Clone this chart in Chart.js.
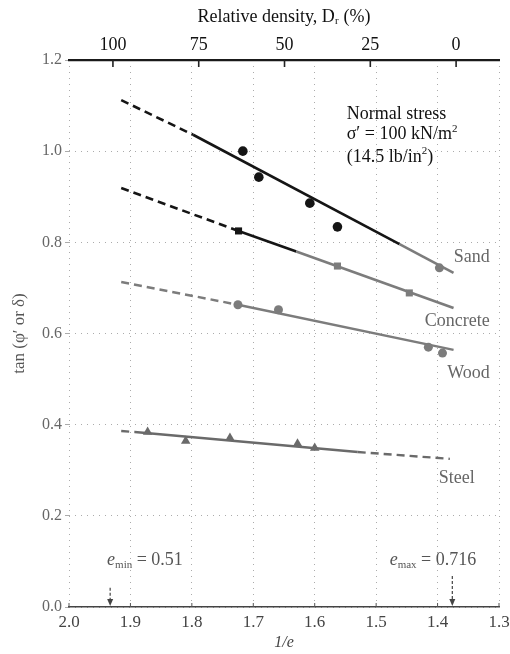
<!DOCTYPE html>
<html><head><meta charset="utf-8">
<script src="https://cdn.jsdelivr.net/npm/chart.js@4/dist/chart.umd.min.js"></script>
<style>html,body{margin:0;padding:0;background:#fff}</style>
</head><body>
<canvas id="c" width="510" height="654"></canvas>
<script>
// ---------- data ----------
const xTickValues = [2.0, 1.9, 1.8, 1.7, 1.6, 1.5, 1.4, 1.3];
const drTickValues = [100, 75, 50, 25, 0];
const yTickValues = [0.0, 0.2, 0.4, 0.6, 0.8, 1.0, 1.2];

const sandPtsX = [1.717, 1.691, 1.608, 1.563];
const sandPtsY = [1.000, 0.943, 0.886, 0.834];
const sandEndPtX = [1.397];
const sandEndPtY = [0.744];
const sandLineX = [1.915, 1.798, 1.462, 1.374];
const sandLineY = [1.112, 1.036, 0.796, 0.733];

const concretePtsX = [1.724, 1.563, 1.446];
const concretePtsY = [0.825, 0.748, 0.689];
const concreteLineX = [1.915, 1.724, 1.630, 1.374];
const concreteLineY = [0.919, 0.825, 0.780, 0.656];

const woodPtsX = [1.725, 1.659, 1.415, 1.392];
const woodPtsY = [0.663, 0.652, 0.570, 0.557];
const woodLineX = [1.915, 1.725, 1.374];
const woodLineY = [0.713, 0.663, 0.564];

const steelPtsX = [1.872, 1.810, 1.738, 1.628, 1.600];
const steelPtsY = [0.384, 0.364, 0.371, 0.358, 0.349];
const steelLineX = [1.915, 1.893, 1.530, 1.380];
const steelLineY = [0.386, 0.384, 0.340, 0.325];

const eMinOneOverE = 1.933;
const eMaxOneOverE = 1.376;

// ---------- helpers ----------
const SERIF = "'Liberation Serif','DejaVu Serif',serif";
const BLACK = '#151515';
const GRAY = '#7c7c7c';
const pts = (xs, ys) => xs.map((x, i) => ({x: x, y: ys[i]}));
const DASH = [8, 5];

const datasets = [
  {type:'line', data: pts(sandLineX, sandLineY), order: 2, borderWidth: 2.6, pointRadius: 0,
   borderColor: BLACK,
   segment: {borderDash: c => c.p0DataIndex === 0 ? DASH : undefined,
             borderColor: c => c.p0DataIndex === 2 ? GRAY : BLACK}},
  {type:'line', data: pts(concreteLineX, concreteLineY), order: 2, borderWidth: 2.6, pointRadius: 0,
   borderColor: BLACK,
   segment: {borderDash: c => c.p0DataIndex === 0 ? DASH : undefined,
             borderColor: c => c.p0DataIndex === 2 ? GRAY : BLACK}},
  {type:'line', data: pts(woodLineX, woodLineY), order: 2, borderWidth: 2.4, pointRadius: 0,
   borderColor: GRAY,
   segment: {borderDash: c => c.p0DataIndex === 0 ? DASH : undefined}},
  {type:'line', data: pts(steelLineX, steelLineY), order: 2, borderWidth: 2.4, pointRadius: 0,
   borderColor: '#6a6a6a',
   segment: {borderDash: c => (c.p0DataIndex === 0 || c.p0DataIndex === 2) ? DASH : undefined}},
  {type:'scatter', data: pts(sandPtsX, sandPtsY), order: 1, pointStyle:'circle', pointRadius: 4.8,
   backgroundColor: BLACK, borderColor: BLACK, borderWidth: 0},
  {type:'scatter', data: pts(sandEndPtX, sandEndPtY), order: 1, pointStyle:'circle', pointRadius: 4.5,
   backgroundColor: GRAY, borderColor: GRAY, borderWidth: 0},
  {type:'scatter', data: pts(concretePtsX, concretePtsY), order: 1, pointStyle:'rect', pointRadius: 5,
   backgroundColor: c => c.dataIndex === 0 ? BLACK : GRAY, borderWidth: 0},
  {type:'scatter', data: pts(woodPtsX, woodPtsY), order: 1, pointStyle:'circle', pointRadius: 4.5,
   backgroundColor: GRAY, borderColor: GRAY, borderWidth: 0},
  {type:'scatter', data: pts(steelPtsX, steelPtsY), order: 1, pointStyle:'triangle', pointRadius: 5.5,
   backgroundColor: '#6a6a6a', borderColor: '#6a6a6a', borderWidth: 0}
];

function drawRuns(ctx, x, y, parts, align) {
  let w = 0;
  parts.forEach(p => { ctx.font = p.f; w += ctx.measureText(p.t).width; });
  let cx = align === 'right' ? x - w : x;
  parts.forEach(p => {
    ctx.font = p.f;
    ctx.fillText(p.t, cx, y + (p.dy || 0));
    cx += ctx.measureText(p.t).width;
  });
}

const annotPlugin = {
  id: 'annot',
  afterDatasetsDraw(chart) {
    const {ctx, chartArea} = chart;
    const xs = chart.scales.x, ys = chart.scales.y, x2 = chart.scales.x2;
    const X = v => xs.getPixelForValue(v), Y = v => ys.getPixelForValue(v);
    ctx.save();
    // inner ticks on top axis
    ctx.strokeStyle = '#222'; ctx.lineWidth = 1.6;
    drTickValues.forEach(v => {
      const px = x2.getPixelForValue(v);
      ctx.beginPath(); ctx.moveTo(px, chartArea.top); ctx.lineTo(px, chartArea.top + 7); ctx.stroke();
    });
    // small inner ticks on bottom axis
    ctx.strokeStyle = '#555'; ctx.lineWidth = 1;
    xTickValues.forEach(v => {
      const px = X(v);
      ctx.beginPath(); ctx.moveTo(px, chartArea.bottom); ctx.lineTo(px, chartArea.bottom - 4); ctx.stroke();
    });

    ctx.textBaseline = 'middle';
    const f = s => s + 'px ' + SERIF;
    const fi = s => 'italic ' + s + 'px ' + SERIF;
    // Normal stress block
    ctx.fillStyle = '#111';
    const nx = X(1.548);
    drawRuns(ctx, nx, Y(1.082), [{t:'Normal stress', f:f(18)}]);
    drawRuns(ctx, nx, Y(1.036), [{t:'σ′ = 100 kN/m', f:f(18)}, {t:'2', f:f(11), dy:-6}]);
    drawRuns(ctx, nx, Y(0.987), [{t:'(14.5 lb/in', f:f(18)}, {t:'2', f:f(11), dy:-6}, {t:')', f:f(18)}]);
    // material labels
    ctx.fillStyle = '#666';
    const rx = X(1.315);
    drawRuns(ctx, rx, Y(0.768), [{t:'Sand', f:f(18)}], 'right');
    drawRuns(ctx, rx, Y(0.627), [{t:'Concrete', f:f(18)}], 'right');
    drawRuns(ctx, rx, Y(0.513), [{t:'Wood', f:f(18)}], 'right');
    drawRuns(ctx, X(1.398), Y(0.283), [{t:'Steel', f:f(18)}]);
    // e_min / e_max
    ctx.fillStyle = '#555';
    drawRuns(ctx, X(1.938), Y(0.103), [{t:'e', f:fi(18)}, {t:'min', f:f(11), dy:5}, {t:' = 0.51', f:f(18)}]);
    drawRuns(ctx, X(1.478), Y(0.103), [{t:'e', f:fi(18)}, {t:'max', f:f(11), dy:5}, {t:' = 0.716', f:f(18)}]);
    // arrows
    ctx.strokeStyle = '#444'; ctx.fillStyle = '#444'; ctx.lineWidth = 1.2;
    [[eMinOneOverE, 0.042], [eMaxOneOverE, 0.068]].forEach(([xv, yt]) => {
      const px = X(xv), top = Y(yt), bot = Y(0) - 1;
      ctx.setLineDash([3, 2]);
      ctx.beginPath(); ctx.moveTo(px, top); ctx.lineTo(px, bot - 6); ctx.stroke();
      ctx.setLineDash([]);
      ctx.beginPath(); ctx.moveTo(px - 3, bot - 7); ctx.lineTo(px + 3, bot - 7); ctx.lineTo(px, bot); ctx.closePath(); ctx.fill();
    });
    ctx.restore();
  }
};

new Chart(document.getElementById('c'), {
  data: {datasets},
  plugins: [annotPlugin],
  options: {
    responsive: false, animation: false, devicePixelRatio: 1,
    layout: {padding: {left: 0, right: 11, top: 0, bottom: 0}},
    plugins: {legend: {display: false}, tooltip: {enabled: false}},
    scales: {
      x: {
        type: 'linear', position: 'bottom', reverse: true, min: 1.3, max: 2.0,
        afterBuildTicks: s => { s.ticks = xTickValues.map(v => ({value: v})); },
        afterFit: s => { s.height = 47; s.paddingLeft = 0; s.paddingRight = 0; },
        ticks: {color: '#444', font: {family: SERIF, size: 17}, padding: 5, maxRotation: 0,
                callback: v => Number(v).toFixed(1)},
        grid: {color: 'rgba(0,0,0,0.33)', lineWidth: 1, drawTicks: false},
        border: {display: true, color: '#444', width: 1.6, dash: [1, 5]},
        title: {display: true, text: '1/e', color: '#444',
                font: {family: SERIF, size: 16, style: 'italic'}, padding: {top: 0, bottom: 2}}
      },
      x2: {
        type: 'linear', position: 'top', reverse: true, min: -12.5, max: 112.8,
        afterBuildTicks: s => { s.ticks = drTickValues.map(v => ({value: v})); },
        afterFit: s => { s.height = 60; s.paddingLeft = 0; s.paddingRight = 0; },
        ticks: {color: '#111', font: {family: SERIF, size: 18}, padding: 4, maxRotation: 0},
        grid: {drawOnChartArea: false, drawTicks: false},
        border: {display: true, color: '#1a1a1a', width: 2.2},
        title: {display: true, text: 'Relative density, Dᵣ (%)', color: '#111',
                font: {family: SERIF, size: 18}, padding: {top: 6, bottom: 0}}
      },
      y: {
        type: 'linear', position: 'left', min: 0, max: 1.2,
        afterBuildTicks: s => { s.ticks = yTickValues.map(v => ({value: v})); },
        afterFit: s => { s.width = 69; },
        ticks: {color: '#666', font: {family: SERIF, size: 16}, padding: 3,
                callback: v => Number(v).toFixed(1)},
        grid: {color: 'rgba(0,0,0,0.33)', lineWidth: 1, drawTicks: true, tickLength: 4},
        border: {display: false, dash: [1, 5]},
        title: {display: true, text: 'tan (φ′ or δ)', color: '#555',
                font: {family: SERIF, size: 17}, padding: {top: 9, bottom: 0}}
      }
    }
  }
});
</script>
</body></html>
